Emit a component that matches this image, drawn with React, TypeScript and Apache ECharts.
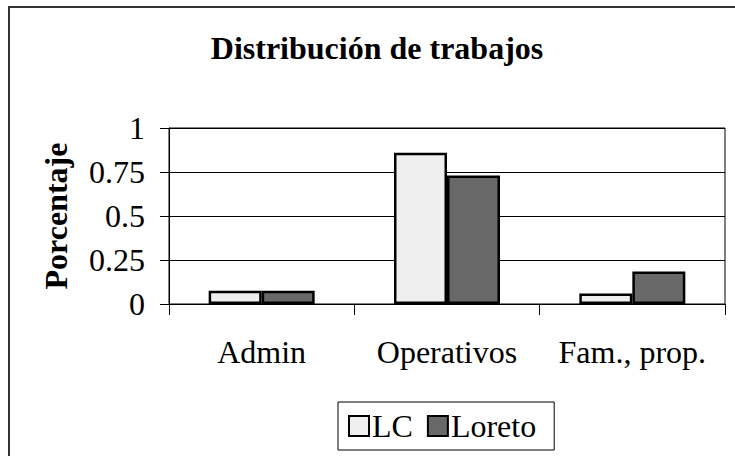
import React, { useEffect, useRef } from "react";
import * as echarts from "echarts";

const categories = ["Admin", "Operativos", "Fam., prop."];
const lcValues = [0.075, 0.86, 0.06];
const loretoValues = [0.075, 0.73, 0.185];
const seriesNames = ["LC", "Loreto"];
const titleText = "Distribución de trabajos";
const yAxisTitle = "Porcentaje";

const FONT = "'Liberation Serif', 'Times New Roman', serif";
const FS = 32;

export default function App() {
  const ref = useRef<HTMLDivElement>(null);
  useEffect(() => {
    document.body.style.margin = "0";
    const chart = echarts.init(ref.current!, null, { renderer: "svg" });
    chart.setOption({
      animation: false,
      backgroundColor: "#ffffff",
      textStyle: { fontFamily: FONT, color: "#000" },
      title: {
        text: titleText,
        left: 372,
        textAlign: "center",
        top: 27,
        textStyle: { fontFamily: FONT, fontSize: FS, fontWeight: "bold", color: "#000" },
      },
      legend: {
        data: seriesNames,
        left: 338,
        top: 402,
        padding: [8, 18, 8, 10],
        itemGap: 14,
        itemWidth: 20,
        itemHeight: 20,
        icon: "rect",
        borderColor: "#000",
        borderWidth: 1,
        textStyle: { fontFamily: FONT, fontSize: FS, color: "#000", padding: [0, 0, 0, -2] },
      },
      grid: {
        left: 169,
        right: 10,
        top: 128,
        bottom: 152,
        show: true,
        borderColor: "#000",
        borderWidth: 1,
      },
      xAxis: {
        type: "category",
        data: categories,
        axisLine: { lineStyle: { color: "#000", width: 1 } },
        axisTick: { show: true, length: 11, lineStyle: { color: "#000" } },
        axisLabel: { interval: 0, fontFamily: FONT, fontSize: FS, color: "#000", margin: 32 },
      },
      yAxis: {
        type: "value",
        min: 0,
        max: 1,
        interval: 0.25,
        name: yAxisTitle,
        nameLocation: "middle",
        nameGap: 97,
        nameTextStyle: { fontFamily: FONT, fontSize: FS, fontWeight: "bold", color: "#000" },
        axisLine: { show: true, lineStyle: { color: "#000", width: 1 } },
        axisTick: { show: true, length: 9, lineStyle: { color: "#000" } },
        axisLabel: { fontFamily: FONT, fontSize: FS, color: "#000", margin: 24 },
        splitLine: { show: true, lineStyle: { color: "#000", width: 1 } },
      },
      series: [
        {
          name: seriesNames[0],
          type: "bar",
          data: lcValues,
          barWidth: 53,
          barGap: "0%",
          itemStyle: { color: "#efefef", borderColor: "#000", borderWidth: 2.5 },
        },
        {
          name: seriesNames[1],
          type: "bar",
          data: loretoValues,
          barWidth: 53,
          barGap: "0%",
          itemStyle: { color: "#686868", borderColor: "#000", borderWidth: 2.5 },
        },
      ],
      graphic: [
        {
          type: "rect",
          silent: true,
          z: -1,
          shape: { x: 9, y: 7, width: 800, height: 600 },
          style: { fill: "none", stroke: "#333", lineWidth: 2 },
        },
      ],
    });
    return () => chart.dispose();
  }, []);
  return <div ref={ref} style={{ width: 735, height: 456 }} />;
}
